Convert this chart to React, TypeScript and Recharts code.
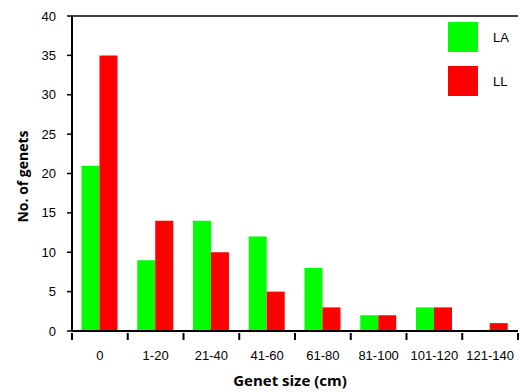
import React from "react";
import { BarChart, Bar, XAxis, YAxis, Legend, ReferenceLine, Label } from "recharts";

const categories = ["0", "1-20", "21-40", "41-60", "61-80", "81-100", "101-120", "121-140"];
const laValues = [21, 9, 14, 12, 8, 2, 3, 0];
const llValues = [35, 14, 10, 5, 3, 2, 3, 1];
const yTicks = [0, 5, 10, 15, 20, 25, 30, 35, 40];

const data = categories.map((name, i) => ({ name, LA: laValues[i], LL: llValues[i] }));

const W = 520;
const H = 392;
const PLOT_W = 446;
const HALF_BAND = PLOT_W / categories.length / 2;
const tickFont = "'Liberation Sans', Arial, sans-serif";
const titleFont = "'Open Sans', 'DejaVu Sans', sans-serif";

const XTick = (props: any) => {
  const { x, y, payload, index } = props;
  return (
    <g>
      <line x1={x - HALF_BAND} x2={x - HALF_BAND} y1={y} y2={y + 7} stroke="#000" strokeWidth={2} />
      {index === categories.length - 1 && (
        <line x1={x + HALF_BAND} x2={x + HALF_BAND} y1={y} y2={y + 7} stroke="#000" strokeWidth={2} />
      )}
      <text x={x} y={y + 27} textAnchor="middle" fontSize={13} fontFamily={tickFont} fill="#000">
        {payload.value}
      </text>
    </g>
  );
};

const LegendContent = (props: any) => {
  const { payload } = props;
  return (
    <div>
      {(payload || []).map((p: any) => (
        <div key={p.value} style={{ display: "flex", alignItems: "center", height: 30, marginBottom: 14 }}>
          <div style={{ width: 30, height: 30, background: p.color }} />
          <span style={{ marginLeft: 15, fontSize: 13, fontFamily: tickFont, color: "#000" }}>{p.value}</span>
        </div>
      ))}
    </div>
  );
};

export default function App() {
  return (
    <div style={{ position: "absolute", left: 0, top: 0, width: W, height: H, background: "#fff" }}>
      <BarChart
        width={W}
        height={H}
        data={data}
        margin={{ top: 16, right: 2, left: 0, bottom: 0 }}
        barCategoryGap="17%"
        barGap={0}
      >
        <XAxis
          dataKey="name"
          height={61}
          tickSize={0}
          tickLine={false}
          axisLine={{ stroke: "#000", strokeWidth: 2 }}
          tick={<XTick />}
          interval={0}
        >
          <Label
            content={(p: any) => {
              const vb = p.viewBox;
              return (
                <text
                  x={vb.x + vb.width / 2 - 5}
                  y={vb.y + 55}
                  textAnchor="middle"
                  fontSize={15}
                  fontWeight="bold"
                  fontFamily={titleFont}
                  fill="#000"
                >
                  Genet size (cm)
                </text>
              );
            }}
          />
        </XAxis>
        <YAxis
          width={72}
          domain={[0, 40]}
          ticks={yTicks}
          tickSize={5}
          tickMargin={11}
          axisLine={{ stroke: "#000", strokeWidth: 2 }}
          tickLine={{ stroke: "#000", strokeWidth: 1.5 }}
          tick={{ fontSize: 13, fontFamily: tickFont, fill: "#000" }}
          interval={0}
        >
          <Label
            content={(p: any) => {
              const vb = p.viewBox;
              const cx = 28;
              const cy = vb.y + vb.height / 2 + 3;
              return (
                <text
                  x={cx}
                  y={cy}
                  transform={`rotate(-90, ${cx}, ${cy})`}
                  textAnchor="middle"
                  fontSize={14}
                  fontWeight="bold"
                  fontFamily={titleFont}
                  fill="#000"
                >
                  No. of genets
                </text>
              );
            }}
          />
        </YAxis>
        <YAxis
          yAxisId="right"
          orientation="right"
          width={0}
          domain={[0, 40]}
          tick={false}
          tickLine={false}
          axisLine={{ stroke: "#000", strokeWidth: 1.5 }}
        />
        <ReferenceLine y={40} stroke="#000" strokeWidth={1.5} />
        <Legend
          layout="vertical"
          align="center"
          verticalAlign="middle"
          content={<LegendContent />}
          wrapperStyle={{ position: "absolute", left: 448, top: 22, width: 70 }}
        />
        <Bar dataKey="LA" name="LA" fill="#00FF00" isAnimationActive={false} />
        <Bar dataKey="LL" name="LL" fill="#FF0000" isAnimationActive={false} />
      </BarChart>
    </div>
  );
}
